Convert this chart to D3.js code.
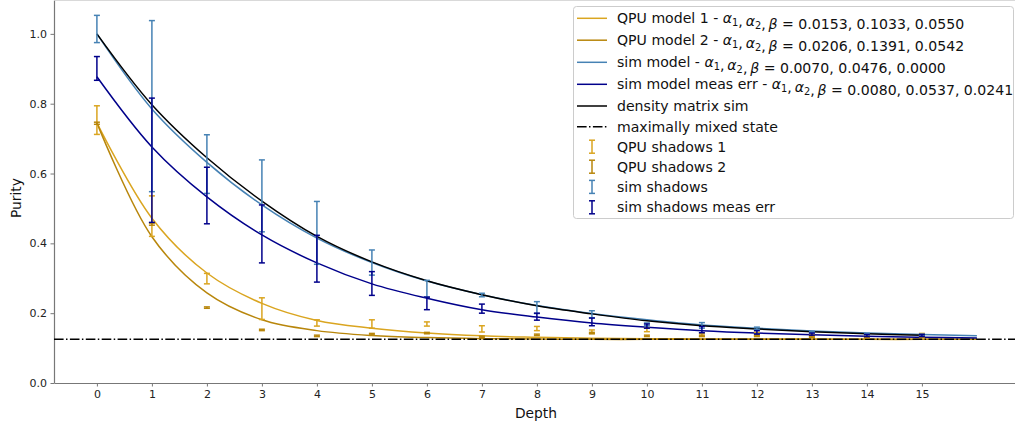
<!DOCTYPE html>
<html>
<head>
<meta charset="utf-8">
<script src="https://cdn.jsdelivr.net/npm/d3@7"></script>
<style>
    body { margin: 0; background: #fff; }
    svg { font-family: 'DejaVu Sans', sans-serif; display: block; }
</style>
</head>
<body>
<div id="purity-chart"></div>
<script>
(function () {
    'use strict';

    // depths for the shadow measurements and for the fitted curves
    const depths = [0, 1, 2, 3, 4, 5, 6, 7, 8, 9, 10, 11, 12, 13, 14, 15];
    const modelDepths = [0, 1, 2, 3, 4, 5, 6, 7, 8, 9, 10, 11, 12, 13, 14, 15, 16];

    // fitted model curves (at each depth)
    const qpuModel1 = [0.745, 0.472, 0.315, 0.228, 0.179, 0.157, 0.143, 0.135, 0.131, 0.128, 0.127, 0.126, 0.126, 0.126, 0.125, 0.125, 0.125];
    const qpuModel2 = [0.745, 0.419, 0.258, 0.181, 0.150, 0.136, 0.130, 0.127, 0.126, 0.125, 0.125, 0.125, 0.125, 0.125, 0.125, 0.125, 0.125];
    const simModel = [1.000, 0.785, 0.632, 0.510, 0.415, 0.345, 0.292, 0.253, 0.222, 0.199, 0.181, 0.166, 0.157, 0.149, 0.143, 0.139, 0.135];
    const simModelMeasErr = [0.877, 0.676, 0.533, 0.424, 0.344, 0.284, 0.243, 0.210, 0.189, 0.172, 0.160, 0.150, 0.143, 0.138, 0.134, 0.131, 0.129];
    const densityMatrixSim = [1.000, 0.797, 0.645, 0.521, 0.420, 0.347, 0.293, 0.253, 0.221, 0.198, 0.178, 0.164, 0.155, 0.147, 0.141, 0.137];
    const maximallyMixed = 0.125;

    // shadow estimates: mean and error
    const qpuShadows1 = [0.753, 0.478, 0.299, 0.213, 0.172, 0.169, 0.169, 0.155, 0.156, 0.147, 0.152, 0.138, 0.140, 0.135, 0.134, 0.138];
    const qpuShadows1Err = [0.041, 0.058, 0.015, 0.031, 0.009, 0.012, 0.006, 0.009, 0.006, 0.005, 0.005, 0.004, 0.005, 0.003, 0.002, 0.004];
    const qpuShadows2 = [0.744, 0.455, 0.216, 0.152, 0.135, 0.140, 0.143, 0.132, 0.138, 0.143, 0.135, 0.135, 0.135, 0.133, 0.131, 0.133];
    const qpuShadows2Err = [0.003, 0.003, 0.002, 0.002, 0.002, 0.002, 0.002, 0.002, 0.002, 0.002, 0.002, 0.002, 0.002, 0.002, 0.002, 0.002];
    const simShadows = [1.014, 0.793, 0.627, 0.536, 0.430, 0.345, 0.270, 0.252, 0.216, 0.197, 0.168, 0.165, 0.157, 0.146, 0.140, 0.138];
    const simShadowsErr = [0.039, 0.245, 0.084, 0.103, 0.090, 0.036, 0.024, 0.005, 0.017, 0.010, 0.004, 0.008, 0.003, 0.002, 0.002, 0.002];
    const simShadowsMeasErr = [0.901, 0.638, 0.537, 0.427, 0.356, 0.285, 0.228, 0.213, 0.190, 0.175, 0.163, 0.153, 0.145, 0.140, 0.136, 0.136];
    const simShadowsMeasErrErr = [0.034, 0.178, 0.081, 0.083, 0.067, 0.034, 0.018, 0.013, 0.010, 0.011, 0.006, 0.009, 0.005, 0.003, 0.003, 0.003];

    // legend labels
    const modelNames = ['QPU model 1', 'QPU model 2', 'sim model', 'sim model meas err'];
    const modelParams = [
        [0.0153, 0.1033, 0.0550],
        [0.0206, 0.1391, 0.0542],
        [0.0070, 0.0476, 0.0000],
        [0.0080, 0.0537, 0.0241]
    ];
    const shadowNames = ['QPU shadows 1', 'QPU shadows 2', 'sim shadows', 'sim shadows meas err'];
    const yTicks = [0.0, 0.2, 0.4, 0.6, 0.8, 1.0];

    const colors = ['#daa520', '#b8860b', '#4682b4', '#00008b'];

    const W = 1015, H = 428;
    const plot = { left: 54, bottom: 383, top: 0 };

    const xScale = d3.scaleLinear().domain([-0.78, 16.8]).range([plot.left, plot.left + 17.58 * 55]);
    const yScale = d3.scaleLinear().domain([0, 1.097]).range([plot.bottom, plot.top]);

    const svg = d3.select('#purity-chart').append('svg')
        .attr('width', W).attr('height', H);

    // axes
    const xAxis = d3.axisBottom(xScale).tickValues(depths).tickFormat(d3.format('d'))
        .tickSize(3.5).tickPadding(3.5).tickSizeOuter(0);
    const yAxis = d3.axisLeft(yScale).tickValues(yTicks).tickFormat(d3.format('.1f'))
        .tickSize(3.5).tickPadding(3.5).tickSizeOuter(0);

    const gx = svg.append('g').attr('transform', 'translate(0,' + plot.bottom + ')').call(xAxis);
    const gy = svg.append('g').attr('transform', 'translate(' + plot.left + ',0)').call(yAxis);
    [gx, gy].forEach(function (g) {
        g.select('.domain').attr('stroke', '#777').attr('stroke-width', 1.2);
        g.selectAll('.tick line').attr('stroke', '#777').attr('stroke-width', 1);
        g.selectAll('.tick text').attr('fill', '#222').style('font-size', '11px')
            .style('font-family', "'DejaVu Sans', sans-serif");
    });
    // top spine, mostly cut off by the figure edge
    svg.append('line').attr('x1', plot.left).attr('x2', W).attr('y1', 0).attr('y2', 0)
        .attr('stroke', '#ccc').attr('stroke-width', 1.5);

    svg.append('text').attr('x', 536).attr('y', 418).attr('text-anchor', 'middle')
        .style('font-size', '13.8px').attr('fill', '#111').text('Depth');
    svg.append('text').attr('transform', 'translate(21,' + 198 + ') rotate(-90)')
        .attr('text-anchor', 'middle').style('font-size', '13.8px').attr('fill', '#111').text('Purity');

    const line = d3.line()
        .x(function (d) { return xScale(d[0]); })
        .y(function (d) { return yScale(d[1]); })
        .curve(d3.curveCatmullRom.alpha(0.5));

    const modelSeries = [qpuModel1, qpuModel2, simModel, simModelMeasErr];
    modelSeries.forEach(function (vals, i) {
        svg.append('path')
            .datum(d3.zip(modelDepths, vals))
            .attr('d', line)
            .attr('fill', 'none')
            .attr('stroke', colors[i])
            .attr('stroke-width', 1.5);
    });

    svg.append('path')
        .datum(d3.zip(depths, densityMatrixSim))
        .attr('d', line)
        .attr('fill', 'none')
        .attr('stroke', '#000')
        .attr('stroke-width', 1.5);

    svg.append('line')
        .attr('x1', plot.left).attr('x2', W)
        .attr('y1', yScale(maximallyMixed)).attr('y2', yScale(maximallyMixed))
        .attr('stroke', '#000').attr('stroke-width', 1.5)
        .attr('stroke-dasharray', '9.6,2.4,1.5,2.4');

    // error bars
    const shadowSeries = [
        [qpuShadows1, qpuShadows1Err],
        [qpuShadows2, qpuShadows2Err],
        [simShadows, simShadowsErr],
        [simShadowsMeasErr, simShadowsMeasErrErr]
    ];
    const cap = 3;
    shadowSeries.forEach(function (s, i) {
        const rows = d3.zip(depths, s[0], s[1]);
        const g = svg.append('g').attr('stroke', colors[i]).attr('stroke-width', 1.5);
        g.selectAll('.bar').data(rows).enter().append('line')
            .attr('x1', function (d) { return xScale(d[0]); })
            .attr('x2', function (d) { return xScale(d[0]); })
            .attr('y1', function (d) { return yScale(d[1] - d[2]); })
            .attr('y2', function (d) { return yScale(d[1] + d[2]); });
        [-1, 1].forEach(function (sign) {
            g.selectAll('.cap' + sign).data(rows).enter().append('line')
                .attr('x1', function (d) { return xScale(d[0]) - cap; })
                .attr('x2', function (d) { return xScale(d[0]) + cap; })
                .attr('y1', function (d) { return yScale(d[1] + sign * d[2]); })
                .attr('y2', function (d) { return yScale(d[1] + sign * d[2]); });
        });
    });

    // legend
    const legend = svg.append('g');
    legend.append('rect')
        .attr('x', 573.5).attr('y', 6.5).attr('width', 440).attr('height', 212)
        .attr('rx', 3).attr('fill', '#fff').attr('fill-opacity', 0.8)
        .attr('stroke', '#ccc').attr('stroke-width', 1);

    const fmt = d3.format('.4f');
    const rowY = [18.3, 40.2, 62.3, 84.3, 106, 126.7, 146.7, 166.7, 186.9, 207.3];
    const textX = 617;
    const fontSize = '14.1px';

    function addGreek(t, ch, sub) {
        t.append('tspan').style('font-style', 'italic').text(ch);
        if (sub) {
            t.append('tspan').attr('dy', 3).style('font-size', '9.9px').text(sub);
            t.append('tspan').attr('dy', -3).text('');
        }
    }

    modelNames.forEach(function (name, i) {
        const y = rowY[i];
        legend.append('line').attr('x1', 577).attr('x2', 607).attr('y1', y).attr('y2', y)
            .attr('stroke', colors[i]).attr('stroke-width', 1.5);
        const t = legend.append('text').attr('x', textX).attr('y', y + 5)
            .style('font-size', fontSize).attr('fill', '#111');
        t.append('tspan').text(name + ' - ');
        addGreek(t, 'α', '1');
        t.append('tspan').text(',\u2009');
        addGreek(t, 'α', '2');
        t.append('tspan').text(',\u2009');
        addGreek(t, 'β');
        t.append('tspan').text(' = ' + modelParams[i].map(fmt).join(', '));
    });

    legend.append('line').attr('x1', 577).attr('x2', 607).attr('y1', rowY[4]).attr('y2', rowY[4])
        .attr('stroke', '#000').attr('stroke-width', 1.5);
    legend.append('text').attr('x', textX).attr('y', rowY[4] + 5)
        .style('font-size', fontSize).attr('fill', '#111').text('density matrix sim');

    legend.append('line').attr('x1', 577).attr('x2', 607).attr('y1', rowY[5]).attr('y2', rowY[5])
        .attr('stroke', '#000').attr('stroke-width', 1.5)
        .attr('stroke-dasharray', '9.6,2.4,1.5,2.4');
    legend.append('text').attr('x', textX).attr('y', rowY[5] + 5)
        .style('font-size', fontSize).attr('fill', '#111').text('maximally mixed state');

    shadowNames.forEach(function (name, i) {
        const y = rowY[6 + i];
        const g = legend.append('g').attr('stroke', colors[i]).attr('stroke-width', 1.5);
        g.append('line').attr('x1', 592).attr('x2', 592).attr('y1', y - 6.5).attr('y2', y + 6.5);
        g.append('line').attr('x1', 592 - cap).attr('x2', 592 + cap).attr('y1', y - 6.5).attr('y2', y - 6.5);
        g.append('line').attr('x1', 592 - cap).attr('x2', 592 + cap).attr('y1', y + 6.5).attr('y2', y + 6.5);
        legend.append('text').attr('x', textX).attr('y', y + 5)
            .style('font-size', fontSize).attr('fill', '#111').text(name);
    });
}());
</script>
</body>
</html>
